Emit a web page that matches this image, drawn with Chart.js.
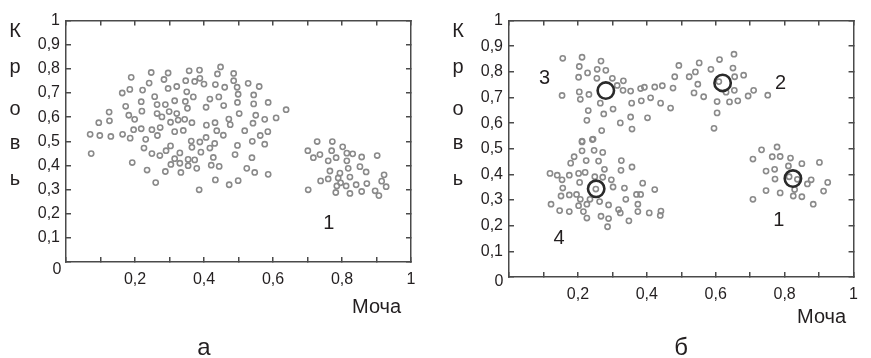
<!DOCTYPE html>
<html>
<head>
<meta charset="utf-8">
<script src="https://cdn.jsdelivr.net/npm/chart.js@4.4.1/dist/chart.umd.min.js"></script>
<style>
  html, body { margin: 0; padding: 0; background: #fff; }
  .wrap { position: relative; width: 871px; height: 358px; }
  canvas { position: absolute; top: 0; }
  #chart-a { left: 0; }
  #chart-b { left: 435px; }
</style>
</head>
<body>
<div class="wrap">
  <canvas id="chart-a" width="435" height="358"></canvas>
  <canvas id="chart-b" width="436" height="358"></canvas>
</div>
<script>
// tick labels (comma decimals, as in the original)
const yTickLabels = ["", "0,1", "0,2", "0,3", "0,4", "0,5", "0,6", "0,7", "0,8", "0,9", "1"];
const xTickLabels = ["", "", "0,2", "", "0,4", "", "0,6", "", "0,8", "", "1"];
const xTitle = "Моча";
const yTitleLetters = ["К", "р", "о", "в", "ь"];
const panelNames = ["а", "б"];

// panel а: [urine, blood]
const aMain = [
  [0.448,0.808],[0.357,0.792],[0.387,0.795],[0.247,0.785],[0.296,0.783],[0.439,0.779],[0.486,0.781],[0.189,0.765],[0.284,0.756],[0.388,0.761],
  [0.347,0.751],[0.373,0.748],[0.400,0.737],[0.433,0.735],[0.460,0.724],[0.486,0.751],[0.496,0.724],[0.528,0.740],[0.560,0.727],[0.241,0.741],
  [0.321,0.727],[0.296,0.719],[0.185,0.715],[0.163,0.700],[0.222,0.712],[0.350,0.705],[0.369,0.684],[0.257,0.685],[0.315,0.668],[0.346,0.665],
  [0.417,0.675],[0.443,0.684],[0.499,0.695],[0.544,0.692],[0.497,0.661],[0.544,0.655],[0.586,0.661],[0.218,0.664],[0.173,0.645],[0.264,0.652],
  [0.288,0.652],[0.352,0.637],[0.406,0.641],[0.457,0.648],[0.638,0.631],[0.125,0.621],[0.220,0.625],[0.264,0.615],[0.299,0.623],[0.321,0.615],
  [0.182,0.608],[0.199,0.591],[0.278,0.601],[0.325,0.588],[0.303,0.579],[0.344,0.591],[0.365,0.577],[0.502,0.615],[0.550,0.608],[0.472,0.592],
  [0.476,0.569],[0.576,0.591],[0.609,0.597],[0.095,0.577],[0.126,0.585],[0.407,0.567],[0.432,0.577],[0.542,0.575],[0.273,0.557],[0.196,0.548],
  [0.218,0.552],[0.249,0.548],[0.315,0.540],[0.340,0.545],[0.437,0.544],[0.456,0.525],[0.518,0.544],[0.563,0.524],[0.585,0.540],[0.070,0.529],
  [0.098,0.524],[0.130,0.520],[0.164,0.529],[0.186,0.513],[0.265,0.524],[0.231,0.508],[0.363,0.501],[0.388,0.497],[0.406,0.516],[0.431,0.491],
  [0.417,0.472],[0.365,0.475],[0.497,0.483],[0.540,0.500],[0.576,0.488],[0.226,0.472],[0.303,0.481],[0.290,0.461],[0.249,0.449],[0.272,0.441],
  [0.330,0.452],[0.391,0.455],[0.315,0.428],[0.354,0.425],[0.373,0.423],[0.427,0.433],[0.490,0.445],[0.539,0.432],[0.073,0.449],[0.192,0.412],
  [0.304,0.404],[0.330,0.409],[0.354,0.399],[0.379,0.388],[0.421,0.401],[0.444,0.396],[0.235,0.381],[0.288,0.375],[0.333,0.371],[0.524,0.388],
  [0.547,0.371],[0.586,0.363],[0.260,0.329],[0.433,0.340],[0.473,0.320],[0.499,0.337],[0.386,0.299]
];
const aGroup1 = [
  [0.701,0.461],[0.728,0.499],[0.772,0.499],[0.717,0.432],[0.736,0.445],[0.770,0.461],[0.783,0.432],[0.760,0.419],[0.802,0.477],[0.814,0.451],
  [0.831,0.448],[0.857,0.435],[0.902,0.441],[0.814,0.419],[0.765,0.377],[0.794,0.368],[0.818,0.388],[0.852,0.395],[0.870,0.373],[0.760,0.344],
  [0.738,0.336],[0.789,0.348],[0.823,0.352],[0.796,0.328],[0.785,0.315],[0.812,0.315],[0.841,0.320],[0.872,0.325],[0.782,0.288],[0.823,0.284],
  [0.857,0.292],[0.896,0.295],[0.922,0.361],[0.915,0.335],[0.928,0.312],[0.907,0.275],[0.702,0.299]
];

// panel б
const bGroup3 = [
  [0.156,0.853],[0.212,0.857],[0.267,0.842],[0.204,0.821],[0.256,0.810],[0.281,0.806],[0.228,0.796],[0.202,0.779],[0.255,0.775],[0.300,0.775],
  [0.332,0.765],[0.314,0.747],[0.331,0.728],[0.353,0.725],[0.154,0.708],[0.204,0.722],[0.207,0.693],[0.232,0.712],[0.265,0.678],[0.356,0.678],
  [0.302,0.655],[0.230,0.649],[0.226,0.611],[0.275,0.636],[0.323,0.601],[0.353,0.624],[0.402,0.621],[0.357,0.577],[0.269,0.571],[0.244,0.538],
  [0.212,0.530],[0.382,0.735],[0.393,0.740],[0.423,0.741],[0.445,0.746],[0.476,0.737],[0.384,0.687],[0.411,0.699],[0.440,0.678],[0.469,0.659],
  [0.481,0.781],[0.493,0.825]
];
const bGroup2 = [
  [0.523,0.781],[0.541,0.800],[0.552,0.835],[0.586,0.810],[0.611,0.848],[0.653,0.869],[0.650,0.815],[0.655,0.781],[0.681,0.787],[0.548,0.752],
  [0.537,0.718],[0.565,0.703],[0.609,0.762],[0.630,0.721],[0.654,0.728],[0.604,0.684],[0.640,0.683],[0.664,0.687],[0.694,0.706],[0.710,0.728],
  [0.751,0.709],[0.604,0.640],[0.595,0.580]
];
const bGroup4 = [
  [0.212,0.527],[0.242,0.536],[0.212,0.492],[0.247,0.494],[0.272,0.486],[0.189,0.469],[0.179,0.444],[0.224,0.454],[0.260,0.452],[0.326,0.454],
  [0.325,0.416],[0.357,0.429],[0.277,0.420],[0.119,0.404],[0.140,0.397],[0.175,0.397],[0.202,0.404],[0.221,0.408],[0.154,0.379],[0.205,0.369],
  [0.249,0.391],[0.272,0.389],[0.297,0.379],[0.302,0.351],[0.252,0.343],[0.156,0.347],[0.335,0.347],[0.388,0.366],[0.423,0.341],[0.151,0.316],
  [0.175,0.320],[0.196,0.322],[0.207,0.303],[0.235,0.303],[0.263,0.294],[0.289,0.281],[0.339,0.303],[0.370,0.322],[0.382,0.322],[0.122,0.284],
  [0.147,0.259],[0.175,0.255],[0.202,0.278],[0.226,0.284],[0.216,0.255],[0.226,0.230],[0.267,0.237],[0.289,0.228],[0.318,0.263],[0.323,0.250],
  [0.348,0.219],[0.374,0.284],[0.374,0.255],[0.407,0.250],[0.441,0.257],[0.439,0.240],[0.286,0.196]
];
const bGroup1 = [
  [0.733,0.496],[0.778,0.507],[0.708,0.460],[0.764,0.469],[0.787,0.470],[0.817,0.464],[0.811,0.433],[0.850,0.442],[0.901,0.447],[0.746,0.413],
  [0.771,0.420],[0.772,0.382],[0.813,0.391],[0.837,0.381],[0.877,0.379],[0.866,0.363],[0.925,0.369],[0.829,0.341],[0.746,0.337],[0.787,0.328],
  [0.825,0.316],[0.850,0.313],[0.913,0.335],[0.708,0.303],[0.883,0.284]
];
// cluster centres (big rings)
const bCenters = [[0.824,0.384],[0.620,0.757],[0.281,0.727],[0.253,0.344]];

const textColor = "#231f20";
const axisColor = "#4a4a4a";
const pointColor = "#8a8a8a";
const centerColor = "#2a2a2a";
const fontFamily = '"Liberation Sans", Arial, Helvetica, sans-serif';

const toXY = (arr) => arr.map(([x, y]) => ({ x, y }));

function pointSet(arr) {
  return {
    data: toXY(arr),
    pointRadius: 2.6,
    pointBorderWidth: 1.6,
    pointBorderColor: pointColor,
    pointBackgroundColor: "rgba(0,0,0,0)",
    pointHoverRadius: 2.6,
  };
}

function centerSet(arr) {
  return {
    data: toXY(arr),
    pointRadius: 8.2,
    pointBorderWidth: 2.6,
    pointBorderColor: centerColor,
    pointBackgroundColor: "rgba(0,0,0,0)",
    pointHoverRadius: 8.2,
  };
}

// draws titles, corner zero, cluster numbers and the panel letter
const panelText = {
  id: "panelText",
  afterDraw(chart, args, opts) {
    const { ctx, chartArea: a, scales } = chart;
    ctx.save();
    ctx.fillStyle = textColor;

    ctx.font = "20px " + fontFamily;
    ctx.textAlign = "center";
    ctx.textBaseline = "alphabetic";
    yTitleLetters.forEach((ch, i) => {
      ctx.fillText(ch, a.left - 51, opts.yTitleBaselines[i]);
    });

    ctx.textAlign = "left";
    ctx.fillText(xTitle, opts.xTitleX, opts.xTitleY);

    ctx.font = "16px " + fontFamily;
    ctx.textAlign = "center";
    ctx.textBaseline = "middle";
    ctx.fillText("0", opts.zero[0], opts.zero[1]);

    ctx.font = "20px " + fontFamily;
    opts.labels.forEach((l) => {
      ctx.fillText(l.text, scales.x.getPixelForValue(l.x), scales.y.getPixelForValue(l.y));
    });

    ctx.font = "24px " + fontFamily;
    ctx.textBaseline = "alphabetic";
    ctx.fillText(opts.panel, opts.panelX, 355);
    ctx.restore();
  },
};

function makeScales(box) {
  const grid = {
    drawOnChartArea: false,
    drawTicks: true,
    tickLength: -5,
    color: axisColor,
    tickColor: axisColor,
    lineWidth: 1.5,
    tickWidth: 1.5,
  };
  const border = { display: true, color: axisColor, width: 1.5 };
  const tickFont = { family: fontFamily, size: 16 };
  return {
    x: {
      type: "linear", position: "bottom", min: 0, max: 1,
      grid, border,
      ticks: {
        stepSize: 0.1, autoSkip: false, maxRotation: 0, padding: 13,
        color: textColor, font: tickFont,
        callback: (v, i) => xTickLabels[i],
      },
      afterFit: (s) => { s.height = box.bottom; },
    },
    x2: {
      type: "linear", position: "top", min: 0, max: 1,
      grid, border,
      ticks: { stepSize: 0.1, display: false },
      afterFit: (s) => { s.height = box.top; },
    },
    y: {
      type: "linear", position: "left", min: 0, max: 1,
      grid, border,
      ticks: {
        stepSize: 0.1, autoSkip: false, padding: 11,
        color: textColor, font: tickFont,
        callback: (v, i) => yTickLabels[i],
      },
      afterFit: (s) => { s.width = box.left; },
    },
    y2: {
      type: "linear", position: "right", min: 0, max: 1,
      grid, border,
      ticks: { stepSize: 0.1, display: false },
      afterFit: (s) => { s.width = box.right; },
    },
  };
}

function makeChart(id, datasets, box, textOpts) {
  return new Chart(document.getElementById(id), {
    type: "scatter",
    data: { datasets },
    options: {
      responsive: false,
      animation: false,
      devicePixelRatio: 1,
      layout: { padding: 0, autoPadding: false },
      scales: makeScales(box),
      plugins: {
        legend: { display: false },
        tooltip: { enabled: false },
        panelText: textOpts,
      },
    },
    plugins: [panelText],
  });
}

makeChart(
  "chart-a",
  [pointSet(aMain), pointSet(aGroup1)],
  { left: 66, right: 24, top: 12, bottom: 96 },
  {
    yTitleBaselines: [37, 73, 115, 149, 185],
    xTitleX: 352, xTitleY: 313,
    zero: [57, 270],
    labels: [{ text: "1", x: 0.762, y: 0.16 }],
    panel: panelNames[0], panelX: 204,
  }
);

makeChart(
  "chart-b",
  [centerSet(bCenters), pointSet(bGroup3), pointSet(bGroup2), pointSet(bGroup4), pointSet(bGroup1)],
  { left: 74, right: 3, top: 12, bottom: 81 },
  {
    yTitleBaselines: [37, 73, 115, 149, 185],
    xTitleX: 362, xTitleY: 323,
    zero: [64, 282],
    labels: [
      { text: "1", x: 0.783, y: 0.219 },
      { text: "2", x: 0.788, y: 0.755 },
      { text: "3", x: 0.103, y: 0.774 },
      { text: "4", x: 0.145, y: 0.151 },
    ],
    panel: panelNames[1], panelX: 246,
  }
);
</script>
</body>
</html>
